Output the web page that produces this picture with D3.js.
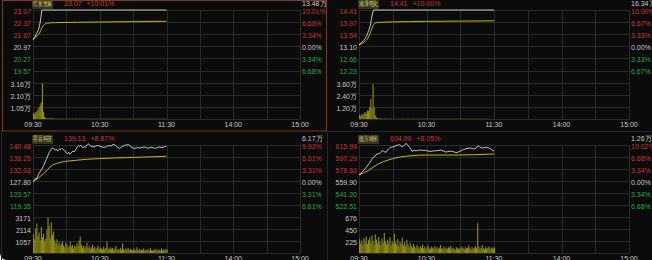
<!DOCTYPE html>
<html>
<head>
<meta charset="utf-8">
<script src="https://cdn.jsdelivr.net/npm/d3@7"></script>
<style>
  html, body { margin: 0; padding: 0; background: #fff; }
  #chart { width: 652px; height: 260px; }
  text { font-family: "Liberation Sans", Arial, sans-serif; }
</style>
</head>
<body>
<div id="chart"></div>
<script>
//~~~~~~~~~~~~~~~~~~~~~~~~~~~~~~~~~~~~
// Data
//~~~~~~~~~~~~~~~~~~~~~~~~~~~~~~~~~~~~
const stockNames = ["红星发展", "湘潭电化", "容百科技", "德方纳米"];
const lastPrices = ["23.07", "14.41", "139.13", "604.99"];
const lastChanges = ["+10.01%", "+10.00%", "+8.87%", "+8.05%"];
const totalVolumes = ["13.48万", "16.34万", "6.17万", "1.26万"];
const prevCloses = [20.97, 13.10, 127.80, 559.90];
const axisTops = [23.07, 14.41, 140.48, 615.99];
const volMaxes = [3.16, 3.60, 3171, 676];

const priceTicks = [
    ["23.07", "22.37", "21.67", "20.97", "20.27", "19.57"],
    ["14.41", "13.97", "13.54", "13.10", "12.66", "12.23"],
    ["140.48", "136.25", "132.03", "127.80", "123.57", "119.35"],
    ["615.99", "597.29", "578.60", "559.90", "541.20", "522.51"]
];
const pctTicks = [
    ["10.01%", "6.68%", "3.34%", "0.00%", "3.34%", "6.68%"],
    ["10.00%", "6.67%", "3.33%", "0.00%", "3.33%", "6.67%"],
    ["9.92%", "6.61%", "3.31%", "0.00%", "3.31%", "6.61%"],
    ["10.02%", "6.68%", "3.34%", "0.00%", "3.34%", "6.68%"]
];
const volTicks = [
    ["3.16万", "2.10万", "1.05万"],
    ["3.60万", "2.40万", "1.20万"],
    ["3171", "2114", "1057"],
    ["676", "450", "225"]
];
const timeTicks = ["09:30", "10:30", "11:30", "14:00", "15:00"];
const timeTickMinutes = [0, 60, 120, 180, 240];

// [minute since 09:30, price]
const hxPrice = [[0,21.36],[1,21.45],[2,21.55],[3,21.70],[4,21.80],[5,21.95],[6,22.20],[7,22.60],[8,23.07],[120,23.07]];
const hxAvg = [[0,21.36],[3,21.55],[6,21.75],[8,22.05],[10,22.22],[12,22.30],[20,22.34],[40,22.36],[80,22.39],[120,22.42]];
const hxVol = [0.55,0.42,0.60,0.68,0.85,1.02,1.25,1.45,3.10,0.62,0.18,
    0.09,0.08,0.06,0.05,0.07,0.04,0.05,0.03,0.04,0.03,
    0.03,0.02,0.03,0.02,0.04,0.02,0.03,0.02,0.02,0.03,
    0.02,0.03,0.02,0.02,0.03,0.02,0.02,0.04,0.02,0.02,
    0.03,0.02,0.02,0.03,0.02,0.02,0.02,0.03,0.02,0.02,
    0.02,0.03,0.02,0.02,0.02,0.03,0.02,0.02,0.02,0.02,
    0.03,0.02,0.02,0.02,0.02,0.03,0.02,0.02,0.02,0.02,
    0.02,0.02,0.03,0.02,0.02,0.02,0.02,0.02,0.03,0.02,
    0.02,0.02,0.02,0.02,0.02,0.03,0.02,0.02,0.02,0.02,
    0.02,0.02,0.02,0.03,0.02,0.02,0.02,0.02,0.02,0.02,
    0.03,0.02,0.02,0.02,0.02,0.02,0.02,0.03,0.02,0.02,
    0.02,0.02,0.02,0.02,0.03,0.02,0.02,0.02,0.02,0.03];

const xtPrice = [[0,13.15],[1,13.18],[2,13.23],[3,13.26],[4,13.31],[5,13.35],[6,13.42],[7,13.50],[8,13.60],[9,13.72],[10,13.84],[11,14.08],[12,14.30],[13,14.41],[120,14.41]];
const xtAvg = [[0,13.15],[5,13.27],[8,13.40],[10,13.58],[12,13.80],[14,13.93],[16,13.96],[30,13.98],[60,14.00],[90,14.01],[120,14.02]];
const xtVol = [0.42,0.30,0.48,0.38,0.55,0.70,0.52,0.85,0.78,1.15,1.95,1.05,3.45,1.20,0.35,0.15,
    0.08,0.06,0.05,0.04,0.05,0.03,0.04,0.03,0.03,0.02,0.03,0.02,0.03,0.02,
    0.02,0.03,0.02,0.02,0.03,0.02,0.02,0.02,0.03,0.02,0.02,0.02,0.02,0.03,
    0.02,0.02,0.02,0.02,0.03,0.02,0.02,0.02,0.02,0.02,0.03,0.02,0.02,0.02,
    0.02,0.02,0.03,0.02,0.02,0.02,0.02,0.02,0.02,0.03,0.02,0.02,0.02,0.02,
    0.02,0.02,0.02,0.03,0.02,0.02,0.02,0.02,0.02,0.02,0.02,0.03,0.02,0.02,
    0.02,0.02,0.02,0.02,0.02,0.03,0.02,0.02,0.02,0.02,0.02,0.02,0.02,0.03,
    0.02,0.02,0.02,0.02,0.02,0.02,0.03,0.02,0.02,0.02,0.02,0.02,0.02,0.02,0.03];

const rbPrice = [[0,127.5],[1,127.9],[2,128.6],[3,128.4],[4,129.3],[5,130.2],[6,130.8],[7,131.6],[8,132.1],[9,132.8],[10,133.5],[11,134.6],[12,135.4],[13,136.3],[14,137.4],[15,138.2],[16,138.9],[17,139.2],[18,139.5],[19,139.1],[20,138.7],[21,139.0],[22,138.4],[23,138.6],[24,139.2],[25,138.9],[26,139.3],[27,139.0],[28,138.6],[29,138.1],[30,137.8],[31,137.5],[32,137.9],[33,137.2],[34,137.6],[35,138.1],[36,138.4],[37,138.0],[38,138.5],[39,139.3],[40,139.9],[41,140.3],[42,140.0],[43,140.4],[44,139.8],[45,139.5],[46,139.9],[47,139.6],[48,140.2],[49,140.6],[50,140.9],[51,140.5],[52,140.1],[53,139.8],[54,140.2],[55,139.7],[56,140.0],[58,140.3],[60,140.1],[62,139.8],[64,139.6],[66,139.9],[68,140.3],[70,140.1],[72,140.7],[74,140.4],[76,139.6],[78,139.3],[80,139.9],[82,140.3],[84,140.5],[86,140.6],[88,139.9],[90,139.4],[92,139.3],[94,139.6],[96,139.4],[98,139.6],[100,139.8],[102,139.5],[104,139.4],[106,139.7],[108,139.5],[110,139.3],[112,139.6],[114,139.8],[116,139.5],[118,139.9],[120,140.1]];
const rbAvg = [[0,127.6],[5,129.0],[10,130.5],[16,133.0],[23,134.2],[36,135.0],[60,135.7],[90,136.1],[120,136.5]];
const rbVol = [1650,1200,2150,2600,1500,1800,1100,2300,1400,1700,1000,1250,2000,3150,2400,1300,2700,1600,1900,1100,
    850,1200,700,950,600,800,1050,650,500,900,
    750,450,600,1000,550,700,400,650,500,850,
    600,1100,1450,700,500,650,400,550,900,450,
    600,350,500,750,400,550,300,450,650,350,
    500,400,300,550,350,450,1000,400,300,500,
    350,450,250,400,600,300,350,250,450,300,
    850,350,250,400,300,450,250,350,300,200,
    400,250,300,500,250,350,200,300,250,400,
    200,300,250,350,200,450,250,200,300,250,
    350,200,300,250,200,400,250,300,200,350,300];

const dfPrice = [[0,570.8],[1,569.5],[2,572.4],[3,574.6],[4,575.9],[5,578.3],[6,580.2],[7,582.5],[8,585.0],[9,587.4],[10,589.6],[11,592.3],[12,595.4],[13,597.5],[14,598.6],[15,600.2],[16,601.5],[17,602.2],[18,603.0],[19,604.4],[20,605.8],[21,607.0],[22,606.3],[23,605.2],[24,604.6],[25,606.9],[26,609.4],[27,611.0],[28,611.9],[29,612.6],[30,613.3],[31,612.8],[32,614.2],[33,614.9],[34,615.6],[35,616.0],[36,616.5],[37,615.2],[38,614.0],[39,613.3],[40,615.1],[41,617.2],[42,618.6],[43,616.4],[44,614.3],[45,612.4],[46,609.5],[47,606.2],[48,606.9],[49,607.5],[51,607.1],[53,607.8],[55,608.2],[57,607.6],[59,607.3],[61,606.8],[63,606.0],[65,606.4],[67,606.9],[69,607.1],[71,607.6],[73,608.2],[75,606.7],[77,605.1],[79,605.6],[81,606.4],[83,606.0],[85,604.9],[87,604.0],[89,605.8],[91,607.2],[93,609.0],[95,610.1],[97,610.8],[99,611.3],[101,610.4],[103,609.8],[104,611.5],[106,614.9],[107,613.2],[109,611.3],[111,611.8],[113,612.4],[115,611.6],[117,609.8],[119,607.5],[120,606.0]];
const dfAvg = [[0,569.7],[8,575.9],[17,586.4],[26,592.6],[35,596.8],[47,599.3],[59,600.4],[73,600.4],[88,600.4],[103,600.9],[120,602.0]];
const dfVol = [260,180,230,150,280,200,310,170,240,290,190,330,220,160,350,250,180,300,210,150,
    270,190,380,220,160,250,180,300,140,220,
    170,360,200,150,260,130,210,170,290,140,
    200,120,250,160,110,190,130,100,170,120,
    90,150,110,80,130,100,160,90,120,80,
    110,140,90,70,120,100,80,130,90,110,
    70,100,150,80,90,120,70,100,80,110,
    90,130,70,100,80,60,110,90,70,100,
    80,120,90,70,110,80,100,140,90,70,
    110,80,100,130,90,560,120,80,100,150,
    90,70,110,80,100,120,70,90,110,80,100];

//~~~~~~~~~~~~~~~~~~~~~~~~~~~~~~~~~~~~
// Layout + colours
//~~~~~~~~~~~~~~~~~~~~~~~~~~~~~~~~~~~~
const width = 652, height = 260;
const boxes = [
    {x0: 33, x1: 300, y0: 10, y1: 119},
    {x0: 359, x1: 629, y0: 10, y1: 119},
    {x0: 33, x1: 300, y0: 145, y1: 253},
    {x0: 359, x1: 629, y0: 145, y1: 253}
];
const RED = "#cc3333", GREEN = "#22a844", GREY = "#c8c8c8";
const GRID = "#2a2a2a";
const tickColor = i => i < 3 ? RED : (i === 3 ? GREY : GREEN);

const panels = stockNames.map((name, i) => ({
    name: name,
    last: lastPrices[i],
    change: lastChanges[i],
    total: totalVolumes[i],
    prev: prevCloses[i],
    top: axisTops[i],
    volMax: volMaxes[i],
    priceTicks: priceTicks[i],
    pctTicks: pctTicks[i],
    volTicks: volTicks[i],
    price: [hxPrice, xtPrice, rbPrice, dfPrice][i],
    avg: [hxAvg, xtAvg, rbAvg, dfAvg][i],
    vol: [hxVol, xtVol, rbVol, dfVol][i]
}));

//~~~~~~~~~~~~~~~~~~~~~~~~~~~~~~~~~~~~
// Draw
//~~~~~~~~~~~~~~~~~~~~~~~~~~~~~~~~~~~~
const svg = d3.select("#chart").append("svg")
    .attr("width", width)
    .attr("height", height);

// window background, rounded bottom-left corner
svg.append("path")
    .attr("d", `M0,0 H${width} V${height} H8 Q0,${height} 0,${height - 8} Z`)
    .attr("fill", "#0b0b0b");

// panel separators
svg.append("line").attr("x1", 327.5).attr("x2", 327.5).attr("y1", 131).attr("y2", height)
    .attr("stroke", "#262626");
svg.append("line").attr("x1", 327).attr("x2", width).attr("y1", 131.5).attr("y2", 131.5)
    .attr("stroke", "#262626");
svg.append("line").attr("x1", 1.5).attr("x2", 1.5).attr("y1", 131).attr("y2", height)
    .attr("stroke", "#2a2a2a");

function drawPanel(p, box) {
    const g = svg.append("g");
    const rowH = (box.y1 - box.y0) / 9;
    const midY = box.y0 + 6 * rowH;
    const delta = p.top - p.prev;

    const x = d3.scaleLinear().domain([0, 240]).range([box.x0, box.x1]);
    const y = d3.scaleLinear().domain([p.prev - delta, p.prev + delta]).range([midY, box.y0]);
    const yv = d3.scaleLinear().domain([0, p.volMax]).range([box.y1, midY]);

    // grid
    g.selectAll(".hgrid").data(d3.range(10)).join("line")
        .attr("x1", box.x0).attr("x2", box.x1)
        .attr("y1", d => Math.round(box.y0 + d * rowH) + 0.5)
        .attr("y2", d => Math.round(box.y0 + d * rowH) + 0.5)
        .attr("stroke", GRID);
    g.selectAll(".vgrid").data(d3.range(0, 241, 30)).join("line")
        .attr("x1", d => Math.round(x(d)) + 0.5).attr("x2", d => Math.round(x(d)) + 0.5)
        .attr("y1", box.y0).attr("y2", box.y1)
        .attr("stroke", GRID);

    // volume bars
    const step = x(1) - x(0);
    g.selectAll(".vol").data(p.vol).join("rect")
        .attr("x", (d, i) => x(i))
        .attr("width", step)
        .attr("y", d => yv(d))
        .attr("height", d => box.y1 - yv(d))
        .attr("fill", "#8e8c12");

    // average + price lines
    const line = d3.line().x(d => x(d[0])).y(d => y(d[1]));
    g.append("path").datum(p.avg)
        .attr("d", line.curve(d3.curveMonotoneX))
        .attr("fill", "none").attr("stroke", "#c4b40c").attr("stroke-width", 1);
    g.append("path").datum(p.price)
        .attr("d", d3.line().x(d => x(d[0])).y(d => y(d[1])))
        .attr("fill", "none").attr("stroke", "#d8d8d8").attr("stroke-width", 0.9);

    // left price labels
    g.selectAll(".plab").data(p.priceTicks).join("text")
        .attr("x", box.x0 - 2)
        .attr("y", (d, i) => box.y0 + i * rowH + 2)
        .attr("text-anchor", "end").attr("dominant-baseline", "middle")
        .attr("font-size", 7).attr("fill", (d, i) => tickColor(i))
        .text(d => d);
    // right percent labels
    g.selectAll(".rlab").data(p.pctTicks).join("text")
        .attr("x", box.x1 + 2)
        .attr("y", (d, i) => box.y0 + i * rowH + 2)
        .attr("dominant-baseline", "middle")
        .attr("font-size", 7).attr("fill", (d, i) => tickColor(i))
        .text(d => d);
    // volume labels
    g.selectAll(".vlab").data(p.volTicks).join("text")
        .attr("x", box.x0 - 2)
        .attr("y", (d, i) => midY + i * rowH + 2.5)
        .attr("text-anchor", "end").attr("dominant-baseline", "middle")
        .attr("font-size", 7).attr("fill", GREY)
        .text(d => d);
    g.append("text")
        .attr("x", box.x1 + 2).attr("y", box.y0 - 6)
        .attr("dominant-baseline", "middle")
        .attr("font-size", 7).attr("fill", GREY)
        .text(p.total);

    // time labels
    g.selectAll(".tlab").data(timeTicks).join("text")
        .attr("x", (d, i) => x(timeTickMinutes[i]))
        .attr("y", box.y1 + 6)
        .attr("text-anchor", "middle").attr("dominant-baseline", "middle")
        .attr("font-size", 7).attr("fill", GREY)
        .text(d => d);

    // title
    const ty = box.y0 - 5.5;
    g.append("rect")
        .attr("x", box.x0 - 1).attr("y", ty - 4.5)
        .attr("width", 21).attr("height", 9)
        .attr("fill", "#34341f");
    g.append("text")
        .attr("x", box.x0).attr("y", ty)
        .attr("dominant-baseline", "middle")
        .attr("font-family", "'Noto Sans CJK SC', sans-serif")
        .attr("font-size", 6.5).attr("fill", "#d8d070")
        .attr("textLength", 19).attr("lengthAdjust", "spacingAndGlyphs")
        .text(p.name);
    const priceText = g.append("text")
        .attr("x", box.x0 + 31).attr("y", ty)
        .attr("dominant-baseline", "middle")
        .attr("font-size", 7).attr("fill", RED)
        .text(p.last);
    const pw = priceText.node().getComputedTextLength();
    g.append("text")
        .attr("x", box.x0 + 31 + pw + 5).attr("y", ty)
        .attr("dominant-baseline", "middle")
        .attr("font-size", 7).attr("fill", RED)
        .text(p.change);
}

panels.forEach((p, i) => drawPanel(p, boxes[i]));

// selected panel frame
svg.append("rect")
    .attr("x", 2.5).attr("y", 0.5)
    .attr("width", 324).attr("height", 130.5)
    .attr("fill", "none").attr("stroke", "#7a3c1c");
</script>
</body>
</html>
